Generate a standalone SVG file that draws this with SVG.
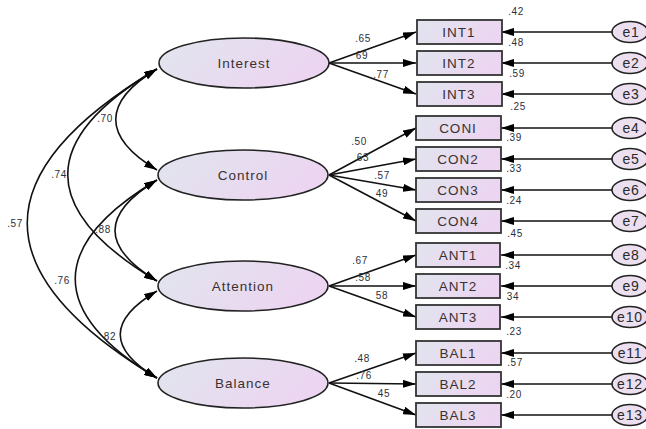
<svg xmlns="http://www.w3.org/2000/svg" width="646" height="429" viewBox="0 0 646 429">
<defs>
<linearGradient id="g" x1="0" y1="0" x2="1" y2="0.3">
<stop offset="0" stop-color="#e1e5ee"/>
<stop offset="1" stop-color="#ecd5f1"/>
</linearGradient>
<marker id="ah" viewBox="0 0 13 8" refX="13" refY="4" markerWidth="13" markerHeight="8" markerUnits="userSpaceOnUse" orient="auto-start-reverse">
<path d="M0,0 L13,4 L0,8 Z" fill="#000"/>
</marker>
</defs>
<style>
.lat{fill:url(#g);stroke:#222;stroke-width:1.6}
.box{fill:url(#g);stroke:#333;stroke-width:1.8}
.err{fill:#ebdff0;stroke:#222;stroke-width:1.6}
.t{font-family:"Liberation Sans",Arial,sans-serif;font-size:13.5px;fill:#3a3030;text-anchor:middle;letter-spacing:1px}
.et{font-family:"Liberation Sans",Arial,sans-serif;font-size:14px;fill:#2a2a2a;text-anchor:middle;letter-spacing:0.8px}
.n{font-family:"Liberation Sans",Arial,sans-serif;font-size:10px;fill:#2b2f3a;text-anchor:middle;letter-spacing:0.6px}
.a{fill:none;stroke:#111;stroke-width:1.6;marker-end:url(#ah)}
.d{fill:none;stroke:#111;stroke-width:1.6;marker-start:url(#ah);marker-end:url(#ah)}
</style>

<g id="connectors">
<!-- covariances -->
<path class="d" d="M157,69 C102,102 102,137 157,170"/>
<path class="d" d="M157,69 C38,139 38,210 157,281"/>
<path class="d" d="M157,69 C-16,172 -16,274 157,378"/>
<path class="d" d="M157,180 C101,214 101,247 157,281"/>
<path class="d" d="M157,180 C48,245 48,313 157,378"/>
<path class="d" d="M157,291 C108,320 108,349 157,378"/>
<!-- loadings -->
<path class="a" d="M329,63 L416,32"/>
<path class="a" d="M329,63 L416,63"/>
<path class="a" d="M329,63 L416,94"/>
<path class="a" d="M329,175 L416,128"/>
<path class="a" d="M329,175 L416,159"/>
<path class="a" d="M329,175 L416,190"/>
<path class="a" d="M329,175 L416,221"/>
<path class="a" d="M329,286 L416,255"/>
<path class="a" d="M329,286 L416,286"/>
<path class="a" d="M329,286 L416,317"/>
<path class="a" d="M329,383 L416,353"/>
<path class="a" d="M329,383 L416,384"/>
<path class="a" d="M329,383 L416,415"/>
<!-- errors -->
<path class="a" d="M612,32 L501,32"/>
<path class="a" d="M612,63 L501,63"/>
<path class="a" d="M612,94 L501,94"/>
<path class="a" d="M612,128 L501,128"/>
<path class="a" d="M612,159 L501,159"/>
<path class="a" d="M612,190 L501,190"/>
<path class="a" d="M612,221 L501,221"/>
<path class="a" d="M612,255 L501,255"/>
<path class="a" d="M612,286 L501,286"/>
<path class="a" d="M612,317 L501,317"/>
<path class="a" d="M612,353 L501,353"/>
<path class="a" d="M612,384 L501,384"/>
<path class="a" d="M612,415 L501,415"/>
<!-- covariance labels -->
<text class="n" x="105" y="122">.70</text>
<text class="n" x="59" y="178">.74</text>
<text class="n" x="15" y="227">.57</text>
<text class="n" x="103" y="233">.88</text>
<text class="n" x="62" y="284">.76</text>
<text class="n" x="110" y="340">82</text>
<!-- loading labels -->
<text class="n" x="363" y="42">.65</text>
<text class="n" x="362" y="59">69</text>
<text class="n" x="381" y="78">.77</text>
<text class="n" x="359" y="145">.50</text>
<text class="n" x="363" y="161">63</text>
<text class="n" x="382" y="179">.57</text>
<text class="n" x="382" y="197">49</text>
<text class="n" x="360" y="264">.67</text>
<text class="n" x="363" y="281">.58</text>
<text class="n" x="382" y="299">58</text>
<text class="n" x="362" y="362">.48</text>
<text class="n" x="364" y="379">.76</text>
<text class="n" x="384" y="397">45</text>
<!-- R squared -->
<text class="n" x="516" y="15">.42</text>
<text class="n" x="516" y="46">.48</text>
<text class="n" x="517" y="77">.59</text>
<text class="n" x="518" y="110">.25</text>
<text class="n" x="514" y="141">.39</text>
<text class="n" x="514" y="172">.33</text>
<text class="n" x="514" y="204">.24</text>
<text class="n" x="515" y="237">.45</text>
<text class="n" x="513" y="269">.34</text>
<text class="n" x="513" y="300">34</text>
<text class="n" x="514" y="335">.23</text>
<text class="n" x="515" y="366">.57</text>
<text class="n" x="514" y="398">.20</text>
</g>

<g id="Interest"><ellipse class="lat" cx="244" cy="63" rx="85" ry="25"/><text class="t" x="244" y="68">Interest</text></g>
<g id="Control"><ellipse class="lat" cx="243" cy="175" rx="85" ry="25"/><text class="t" x="243" y="180">Control</text></g>
<g id="Attention"><ellipse class="lat" cx="243" cy="286" rx="85" ry="25"/><text class="t" x="243" y="291">Attention</text></g>
<g id="Balance"><ellipse class="lat" cx="243" cy="383" rx="85" ry="25"/><text class="t" x="243" y="388">Balance</text></g>

<g id="INT1"><rect class="box" x="417" y="20" width="85" height="24"/><text class="t" x="459" y="37">INT1</text></g>
<g id="INT2"><rect class="box" x="417" y="51" width="85" height="24"/><text class="t" x="459" y="68">INT2</text></g>
<g id="INT3"><rect class="box" x="417" y="82" width="85" height="24"/><text class="t" x="459" y="99">INT3</text></g>
<g id="CONI"><rect class="box" x="416" y="116" width="85" height="24"/><text class="t" x="458" y="133">CONI</text></g>
<g id="CON2"><rect class="box" x="416" y="147" width="85" height="24"/><text class="t" x="458" y="164">CON2</text></g>
<g id="CON3"><rect class="box" x="416" y="178" width="85" height="24"/><text class="t" x="458" y="195">CON3</text></g>
<g id="CON4"><rect class="box" x="416" y="209" width="85" height="24"/><text class="t" x="458" y="226">CON4</text></g>
<g id="ANT1"><rect class="box" x="416" y="243" width="84" height="24"/><text class="t" x="458" y="260">ANT1</text></g>
<g id="ANT2"><rect class="box" x="416" y="274" width="84" height="24"/><text class="t" x="458" y="291">ANT2</text></g>
<g id="ANT3"><rect class="box" x="416" y="305" width="84" height="24"/><text class="t" x="458" y="322">ANT3</text></g>
<g id="BAL1"><rect class="box" x="416" y="341" width="85" height="24"/><text class="t" x="458" y="358">BAL1</text></g>
<g id="BAL2"><rect class="box" x="416" y="372" width="85" height="24"/><text class="t" x="458" y="389">BAL2</text></g>
<g id="BAL3"><rect class="box" x="416" y="403" width="85" height="24"/><text class="t" x="458" y="420">BAL3</text></g>

<g id="e1"><ellipse class="err" cx="630" cy="32" rx="18" ry="10.5"/><text class="et" x="631" y="37">e1</text></g>
<g id="e2"><ellipse class="err" cx="630" cy="63" rx="18" ry="10.5"/><text class="et" x="631" y="68">e2</text></g>
<g id="e3"><ellipse class="err" cx="630" cy="94" rx="18" ry="10.5"/><text class="et" x="631" y="99">e3</text></g>
<g id="e4"><ellipse class="err" cx="630" cy="128" rx="18" ry="10.5"/><text class="et" x="631" y="133">e4</text></g>
<g id="e5"><ellipse class="err" cx="630" cy="159" rx="18" ry="10.5"/><text class="et" x="631" y="164">e5</text></g>
<g id="e6"><ellipse class="err" cx="630" cy="190" rx="18" ry="10.5"/><text class="et" x="631" y="195">e6</text></g>
<g id="e7"><ellipse class="err" cx="630" cy="221" rx="18" ry="10.5"/><text class="et" x="631" y="226">e7</text></g>
<g id="e8"><ellipse class="err" cx="630" cy="255" rx="18" ry="10.5"/><text class="et" x="631" y="260">e8</text></g>
<g id="e9"><ellipse class="err" cx="630" cy="286" rx="18" ry="10.5"/><text class="et" x="631" y="291">e9</text></g>
<g id="e10"><ellipse class="err" cx="630" cy="317" rx="18" ry="10.5"/><text class="et" x="630" y="322">e10</text></g>
<g id="e11"><ellipse class="err" cx="630" cy="353" rx="18" ry="10.5"/><text class="et" x="630" y="358">e11</text></g>
<g id="e12"><ellipse class="err" cx="630" cy="384" rx="18" ry="10.5"/><text class="et" x="630" y="389">e12</text></g>
<g id="e13"><ellipse class="err" cx="630" cy="415" rx="18" ry="10.5"/><text class="et" x="630" y="420">e13</text></g>
</svg>
